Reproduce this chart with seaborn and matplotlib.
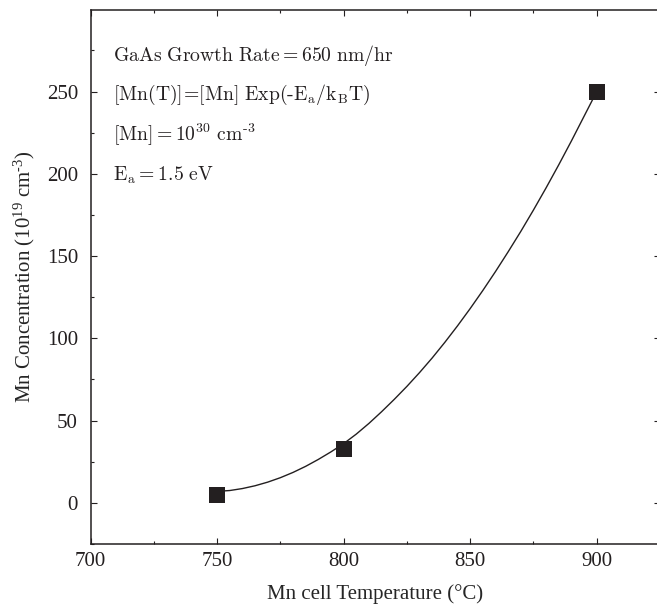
import matplotlib
matplotlib.use("Agg")
import matplotlib.pyplot as plt
from matplotlib.ticker import MultipleLocator, FixedLocator
import seaborn as sns
import pandas as pd

# Measured data points
temps = [750, 800, 900]
conc = [5, 33, 250]

# Fitted curve
curve_T = [752, 755, 760, 765, 770, 775, 780, 785, 790, 795, 800, 805, 810, 815, 820,
           825, 830, 835, 840, 845, 850, 855, 860, 865, 870, 875, 880, 885, 890, 895, 900]
curve_C = [7.2, 7.5, 8.7, 10.4, 12.6, 15.3, 18.5, 22.2, 26.4, 31.0, 36.0, 41.8, 48.3, 55.4, 62.9,
           70.8, 79.2, 88.1, 97.6, 107.6, 118.1, 129.1, 140.6, 152.6, 165.0, 178.0, 191.5, 205.5, 220.0, 235.0, 250.0]

x_ticks = [700, 750, 800, 850, 900]
y_ticks = [0, 50, 100, 150, 200, 250]

annotations = [
    r"$\mathrm{GaAs\ Growth\ Rate} = 650\ \mathrm{nm/hr}$",
    r"$[\mathrm{Mn(T)}]\!=\![\mathrm{Mn}]\ \mathrm{Exp}(\text{-}\mathrm{E_a}/\mathrm{k_BT})$",
    r"$[\mathrm{Mn}] = 10^{30}\ \mathrm{cm}^{\text{-}3}$",
    r"$\mathrm{E_a} = 1.5\ \mathrm{eV}$",
]
annot_y = [272, 248, 223.5, 199]

sns.set_style("ticks")
plt.rcParams["font.family"] = ["Liberation Serif", "DejaVu Serif"]
plt.rcParams["mathtext.fontset"] = "custom"
plt.rcParams["mathtext.rm"] = "Liberation Serif"
plt.rcParams["mathtext.it"] = "Liberation Serif:italic"

fig = plt.figure(figsize=(6.57, 6.11), dpi=100)
ax = fig.add_axes([90.5 / 657, 67 / 611, (660 - 90.5) / 657, (601.5 - 67) / 611])

df_curve = pd.DataFrame({"T": curve_T, "C": curve_C})
df_pts = pd.DataFrame({"T": temps, "C": conc})

sns.lineplot(data=df_curve, x="T", y="C", ax=ax, color="#231f20", lw=1.0,
             estimator=None, sort=False)
sns.scatterplot(data=df_pts, x="T", y="C", ax=ax, marker="s", s=140,
                color="#231f20", edgecolor="#231f20", linewidth=0, zorder=5)

ax.set_xlim(700, 925)
ax.set_ylim(-25, 299.9)
ax.xaxis.set_major_locator(FixedLocator(x_ticks))
ax.yaxis.set_major_locator(FixedLocator(y_ticks))
ax.xaxis.set_minor_locator(MultipleLocator(25))
ax.yaxis.set_minor_locator(MultipleLocator(25))
ax.set_xticklabels([str(v) for v in x_ticks])
ax.set_yticklabels([str(v) for v in y_ticks])

for s in ax.spines.values():
    s.set_visible(True)
    s.set_linewidth(1.1)
    s.set_color("#231f20")

ax.tick_params(which="both", direction="in", top=True, right=True, colors="#231f20",
               labelsize=15, width=0.8)
ax.tick_params(which="major", length=4)
ax.tick_params(which="minor", length=2)
ax.tick_params(axis="x", which="major", pad=6)
ax.tick_params(axis="y", which="major", pad=9)

ax.set_xlabel("Mn cell Temperature (°C)", fontsize=15, labelpad=9)
ax.set_ylabel(r"Mn Concentration (10$^{19}$ cm$^{\text{-}3}$)", fontsize=15, labelpad=7)

for txt, yy in zip(annotations, annot_y):
    t = ax.text(708.9, yy, txt, fontsize=14.2, va="center", ha="left", color="#231f20")
    t.set_math_fontfamily("cm")

fig.savefig("out.png", dpi=100)
